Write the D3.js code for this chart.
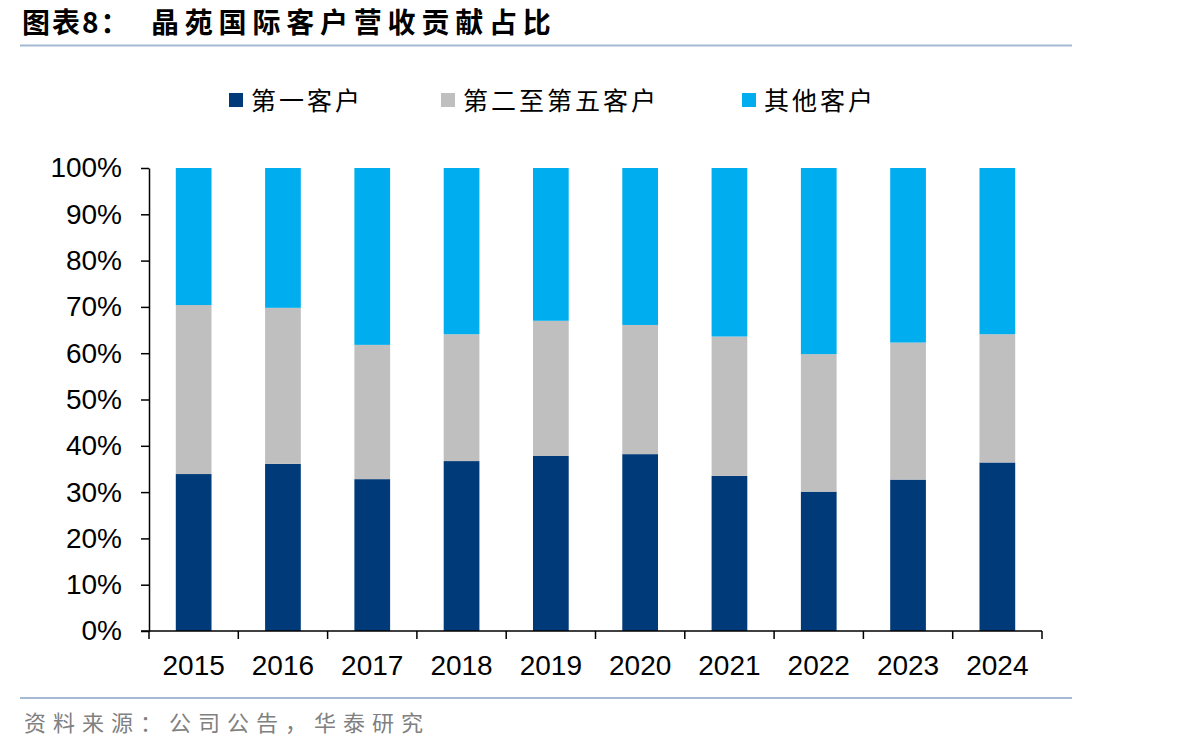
<!DOCTYPE html>
<html>
<head>
<meta charset="utf-8">
<script src="https://cdn.jsdelivr.net/npm/d3@7"></script>
<style>
  body { margin: 0; background: #fff; }
  svg text { font-family: "Liberation Sans", Arial, sans-serif; }
  .cjk { font-family: "Noto Sans CJK SC", sans-serif; }
</style>
</head>
<body>
<div id="chart"></div>
<script>
// data (percent)
var years = ["2015", "2016", "2017", "2018", "2019", "2020", "2021", "2022", "2023", "2024"];
var firstCust = [33.9, 36.1, 32.8, 36.7, 37.8, 38.2, 33.5, 30.1, 32.7, 36.4];
var secondToFifth = [36.5, 33.7, 29.0, 27.4, 29.2, 27.9, 30.1, 29.7, 29.6, 27.7];
var others = years.map(function(d, i) { return +(100 - firstCust[i] - secondToFifth[i]).toFixed(1); });
var seriesNames = ["第一客户", "第二至第五客户", "其他客户"];
var colors = ["#003a78", "#bfbfbf", "#00aeef"];
var yTicks = [0, 10, 20, 30, 40, 50, 60, 70, 80, 90, 100];

var W = 1198, H = 752;
var margin = {top: 168, right: 156, bottom: 121, left: 149},
    width = W - margin.left - margin.right,
    height = H - margin.top - margin.bottom;

var root = d3.select("#chart").append("svg")
    .attr("width", W)
    .attr("height", H);

// title + rules
root.append("text")
    .attr("class", "cjk")
    .attr("x", 22).attr("y", 33)
    .attr("font-size", 28).attr("font-weight", "bold")
    .attr("letter-spacing", 2)
    .attr("fill", "#000")
    .text("图表8：");
root.append("text")
    .attr("class", "cjk")
    .attr("x", 151).attr("y", 33)
    .attr("font-size", 28).attr("font-weight", "bold")
    .attr("letter-spacing", 5.8)
    .attr("fill", "#000")
    .text("晶苑国际客户营收贡献占比");

root.append("line")
    .attr("x1", 20).attr("x2", 1072).attr("y1", 45.5).attr("y2", 45.5)
    .attr("stroke", "#a3b9d4").attr("stroke-width", 2);

root.append("line")
    .attr("x1", 20).attr("x2", 1072).attr("y1", 698).attr("y2", 698)
    .attr("stroke", "#a3b9d4").attr("stroke-width", 2);

root.append("text")
    .attr("class", "cjk")
    .attr("x", 24).attr("y", 731)
    .attr("font-size", 22)
    .attr("letter-spacing", 7)
    .attr("fill", "#808080")
    .text("资料来源：公司公告，华泰研究");

// legend
var legendX = [229, 441, 742];
var legend = root.selectAll(".legend")
    .data(seriesNames)
    .enter().append("g")
    .attr("class", "legend")
    .attr("transform", function(d, i) { return "translate(" + legendX[i] + ",93)"; });
legend.append("rect")
    .attr("width", 14).attr("height", 14)
    .attr("fill", function(d, i) { return colors[i]; });
legend.append("text")
    .attr("class", "cjk")
    .attr("x", 22).attr("y", 17)
    .attr("font-size", 25)
    .attr("letter-spacing", 3)
    .attr("fill", "#000")
    .text(function(d) { return d; });

var svg = root.append("g")
    .attr("transform", "translate(" + margin.left + "," + margin.top + ")");

var x = d3.scaleBand()
    .domain(years)
    .range([0, width])
    .paddingInner(0.6)
    .paddingOuter(0.3);

var y = d3.scaleLinear()
    .domain([0, 100])
    .range([height, 0]);

var rows = years.map(function(yr, i) {
  return {year: yr, a: firstCust[i], b: secondToFifth[i], c: others[i]};
});
var stacked = d3.stack().keys(["a", "b", "c"])(rows);

svg.selectAll(".series")
    .data(stacked)
    .enter().append("g")
    .attr("class", "series")
    .attr("fill", function(d, i) { return colors[i]; })
  .selectAll("rect")
    .data(function(d) { return d; })
    .enter().append("rect")
    .attr("x", function(d) { return x(d.data.year); })
    .attr("width", x.bandwidth())
    .attr("y", function(d) { return y(d[1]); })
    .attr("height", function(d) { return y(d[0]) - y(d[1]); });

// y axis
var yAxis = svg.append("g")
    .call(d3.axisLeft(y)
      .tickValues(yTicks)
      .tickFormat(function(d) { return d + "%"; })
      .tickSize(8)
      .tickSizeOuter(0)
      .tickPadding(19));
yAxis.selectAll("text").attr("font-size", 28).attr("fill", "#000")
    .attr("font-family", "Liberation Sans, Arial, sans-serif");
yAxis.selectAll("line, path").attr("stroke", "#000").attr("stroke-width", 1.5);

// x axis: ticks at band boundaries
var xAxis = svg.append("g")
    .attr("transform", "translate(0," + height + ")");
xAxis.append("line")
    .attr("x1", -8).attr("x2", width)
    .attr("stroke", "#000").attr("stroke-width", 1.5);
var bounds = d3.range(years.length + 1).map(function(i) { return i * width / years.length; });
xAxis.selectAll(".xt")
    .data(bounds)
    .enter().append("line")
    .attr("x1", function(d) { return d; })
    .attr("x2", function(d) { return d; })
    .attr("y1", 0).attr("y2", 8)
    .attr("stroke", "#000").attr("stroke-width", 1.5);
xAxis.selectAll(".xl")
    .data(years)
    .enter().append("text")
    .attr("x", function(d) { return x(d) + x.bandwidth() / 2; })
    .attr("y", 44)
    .attr("text-anchor", "middle")
    .attr("font-size", 28)
    .attr("fill", "#000")
    .text(function(d) { return d; });
</script>
</body>
</html>
